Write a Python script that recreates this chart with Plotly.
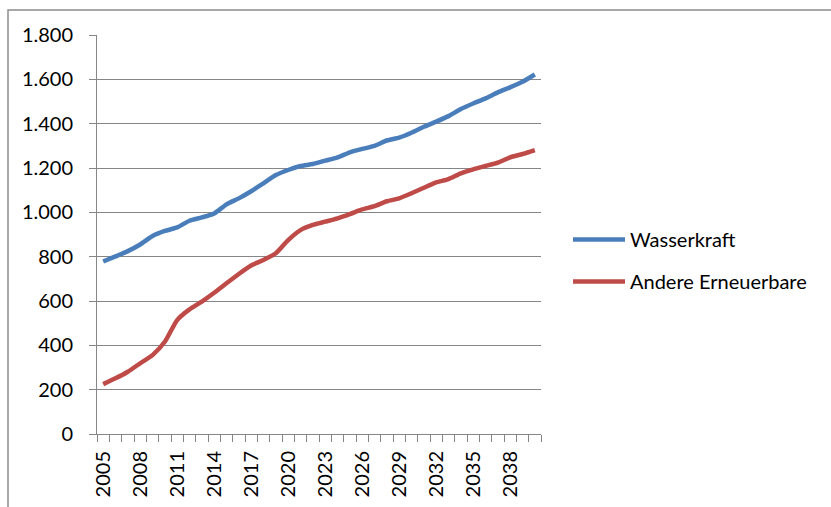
import plotly.graph_objects as go

years = list(range(2005, 2041))
wasserkraft = [778, 801, 825, 855, 893, 916, 932, 962, 977, 995,
               1036, 1063, 1095, 1131, 1168, 1191, 1209, 1218, 1233, 1248,
               1271, 1286, 1300, 1324, 1337, 1359, 1386, 1409, 1434, 1466,
               1491, 1514, 1541, 1564, 1589, 1622]
andere = [225, 251, 281, 319, 356, 416, 514, 562, 597, 637,
          680, 722, 760, 785, 815, 875, 920, 943, 958, 973,
          992, 1013, 1028, 1050, 1063, 1086, 1111, 1135, 1150, 1176,
          1194, 1209, 1224, 1248, 1263, 1281]
series_names = ["Wasserkraft", "Andere Erneuerbare"]
colors = ["#4A7EBB", "#BE4B48"]
label_years = list(range(2005, 2040, 3))
y_ticks = [0, 200, 400, 600, 800, 1000, 1200, 1400, 1600, 1800]

W, H = 831, 507
L, R, T, B = 97, 290, 35, 73
pw, ph = W - L - R, H - T - B

FONT = "Lato, Arial, sans-serif"
GRID = "#868686"
FS = 20

fig = go.Figure()
for i, (name, vals) in enumerate(zip(series_names, [wasserkraft, andere])):
    fig.add_trace(go.Scatter(
        x=years, y=vals, mode="lines", name=name,
        legendgroup=name,
        line=dict(color=colors[i], width=4.5, shape="spline", smoothing=0.6),
    ))

fig.update_layout(
    width=W, height=H,
    margin=dict(l=L, r=R, t=T, b=B, autoexpand=False),
    paper_bgcolor="white", plot_bgcolor="white",
    separators=",.",
    font=dict(family=FONT, size=FS, color="#000000"),
    showlegend=True,
    legend=dict(
        x=(568 - L) / pw, xanchor="left",
        y=(434 - 220) / ph, yanchor="top",
        font=dict(family=FONT, size=FS, color="#000000"),
        tracegroupgap=13,
        traceorder="grouped",
        itemwidth=52,
        bgcolor="rgba(0,0,0,0)",
    ),
    xaxis=dict(
        range=[2004.5, 2040.5],
        automargin=False,
        tickmode="array",
        tickvals=label_years,
        ticktext=[str(y) for y in label_years],
        tickangle=-90,
        ticks="",
        ticklabelstandoff=8,
        showgrid=False,
        showline=True, linecolor=GRID, linewidth=1,
        zeroline=False,
        tickfont=dict(family=FONT, size=FS, color="#000000"),
        minor=dict(ticks="outside", tick0=2004.5, dtick=1, ticklen=7,
                   tickcolor=GRID, tickwidth=1, showgrid=False),
    ),
    yaxis=dict(
        range=[0, 1800],
        automargin=False,
        tickmode="array",
        tickvals=y_ticks,
        tickformat=",d",
        ticks="outside", ticklen=7, tickcolor=GRID, tickwidth=1,
        ticklabelstandoff=12,
        showgrid=True, gridcolor=GRID, gridwidth=1,
        showline=True, linecolor=GRID, linewidth=1,
        zeroline=False,
        tickfont=dict(family=FONT, size=FS, color="#000000"),
    ),
)

# outer chart-area frame (cropped in the reference)
fig.add_shape(
    type="rect", xref="paper", yref="paper",
    x0=(8 - L) / pw, x1=(W + 20 - L) / pw,
    y0=-(H + 20 - (T + ph)) / ph, y1=1 + (T - 10) / ph,
    line=dict(color="#8C8C8C", width=1.5), fillcolor="rgba(0,0,0,0)",
    layer="below",
)

fig.write_html("out.html")
